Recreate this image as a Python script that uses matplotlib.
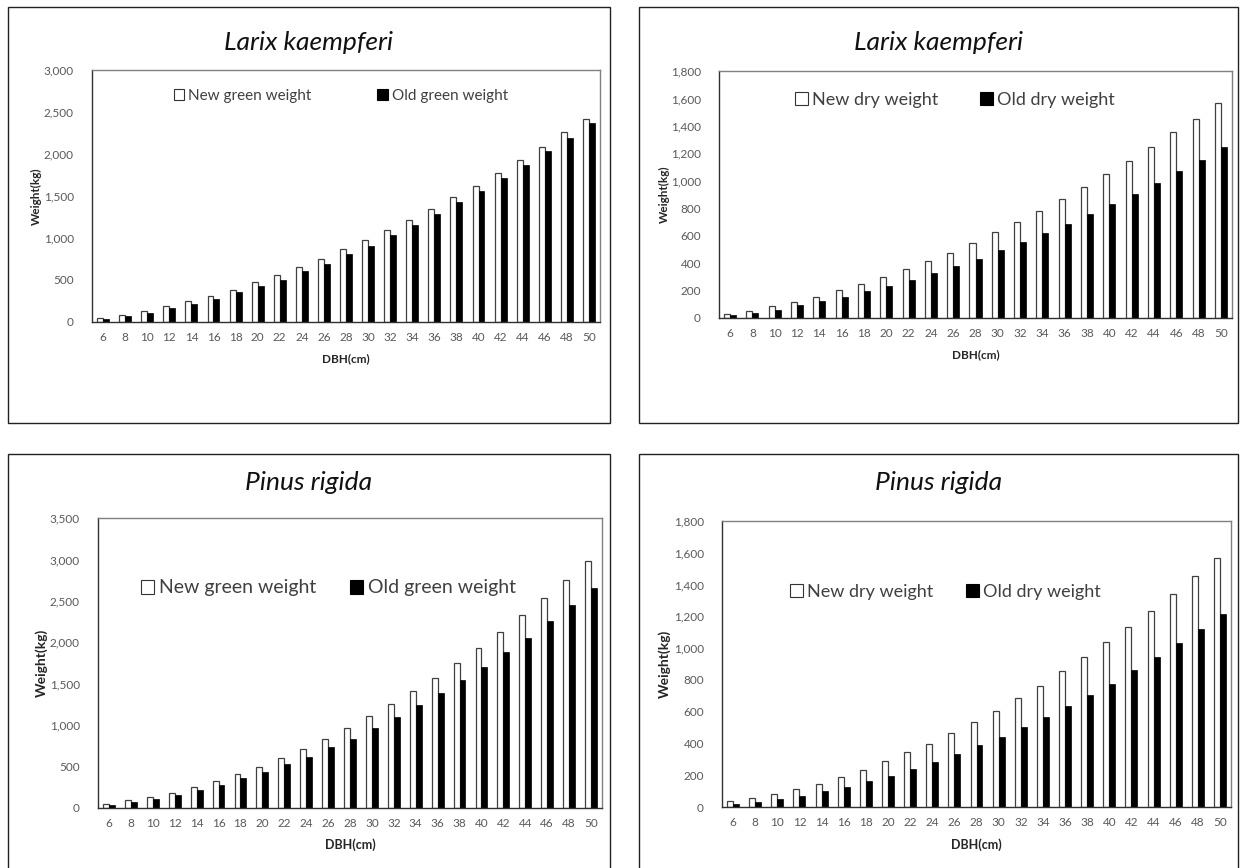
import matplotlib
matplotlib.use('Agg')
import matplotlib.pyplot as plt
import matplotlib.patches as patches
from matplotlib.ticker import FuncFormatter
import numpy as np

plt.rcParams['font.family'] = ['Lato', 'DejaVu Sans']

# DBH classes (cm)
dbh = [6, 8, 10, 12, 14, 16, 18, 20, 22, 24, 26, 28, 30, 32, 34, 36, 38, 40, 42, 44, 46, 48, 50]

# Larix kaempferi
larix_green_new = [45, 87, 134, 187, 246, 313, 385, 472, 563, 651, 753, 865, 980, 1091, 1218, 1345,
                   1484, 1622, 1773, 1928, 2087, 2257, 2420]
larix_green_old = [32, 75, 111, 163, 214, 278, 353, 428, 504, 603, 694, 806, 908, 1032, 1158, 1285,
                   1424, 1563, 1714, 1865, 2031, 2193, 2372]
larix_dry_new = [32, 54, 85, 114, 156, 202, 246, 302, 355, 416, 477, 547, 625, 703, 780, 865,
                 958, 1050, 1145, 1244, 1354, 1453, 1567]
larix_dry_old = [22, 39, 61, 93, 124, 156, 195, 233, 280, 326, 379, 433, 496, 552, 620, 688,
                 758, 829, 907, 982, 1069, 1155, 1244]

# Pinus rigida
pinus_green_new = [52, 97, 133, 185, 250, 327, 407, 496, 601, 718, 834, 967, 1112, 1253, 1411, 1568,
                   1749, 1934, 2128, 2325, 2531, 2752, 2978]
pinus_green_old = [40, 69, 109, 161, 214, 282, 359, 439, 528, 617, 733, 838, 971, 1104, 1245, 1390,
                   1543, 1701, 1886, 2055, 2253, 2446, 2652]
pinus_dry_new = [36, 54, 84, 111, 145, 186, 235, 289, 344, 398, 467, 536, 605, 683, 763, 853,
                 941, 1037, 1133, 1236, 1341, 1452, 1568]
pinus_dry_old = [17, 29, 50, 71, 98, 126, 161, 195, 237, 285, 333, 388, 442, 505, 566, 635,
                 704, 777, 861, 943, 1033, 1121, 1217]

W, H = 1247, 868
fig = plt.figure(figsize=(W / 100, H / 100), dpi=100)

tick_color = '#595959'
edge_gray = '#404040'


def px_axes(left, top, right, bottom):
    # convert pixel box to figure fraction
    return fig.add_axes([left / W, 1 - bottom / H, (right - left) / W, (bottom - top) / H])


def draw_panel(box, frame, title, title_y, new, old, labels, ymax, ystep,
               leg_xy, leg_size, leg_space, tick_size, ylab_size, xlab_size, xlab_y, ylab_x):
    # outer chart frame
    fx0, fy0, fx1, fy1 = frame
    fig.add_artist(patches.Rectangle((fx0 / W, 1 - fy1 / H), (fx1 - fx0) / W, (fy1 - fy0) / H,
                                     transform=fig.transFigure, fill=False,
                                     edgecolor='#222222', linewidth=1.0))
    ax = px_axes(*box)
    x = np.arange(len(dbh))
    w = 0.27
    ax.bar(x - w, new, width=w, align='edge', color='white', edgecolor=edge_gray, linewidth=0.9)
    ax.bar(x, old, width=w, align='edge', color='black', edgecolor='black', linewidth=0.5)
    ax.set_xlim(-0.5, len(dbh) - 0.5)
    ax.set_ylim(0, ymax)
    ax.set_yticks(np.arange(0, ymax + 1, ystep))
    ax.yaxis.set_major_formatter(FuncFormatter(lambda v, p: f'{v:,.0f}'))
    ax.set_xticks(x)
    ax.set_xticklabels([str(d) for d in dbh])
    ax.tick_params(axis='both', length=0, colors=tick_color, labelsize=tick_size)
    ax.tick_params(axis='y', pad=13)
    ax.tick_params(axis='x', pad=7)
    for s in ['top', 'right']:
        ax.spines[s].set_color('#808080')
        ax.spines[s].set_linewidth(1.0)
    for s in ['left', 'bottom']:
        ax.spines[s].set_color('#303030')
        ax.spines[s].set_linewidth(1.0)

    cx = (fx0 + fx1) / 2
    fig.text(cx / W, 1 - title_y / H, title, ha='center', va='center',
             fontsize=19, fontstyle='italic', color='#111111')
    fig.text((box[0] + box[2]) / 2 / W, 1 - xlab_y / H, 'DBH(cm)', ha='center', va='center',
             fontsize=xlab_size, fontweight='bold', color='#262626')
    fig.text(ylab_x / W, 1 - (box[1] + box[3]) / 2 / H, 'Weight(kg)', ha='center', va='center',
             rotation=90, fontsize=ylab_size, fontweight='bold', color='#262626')

    handles = [patches.Patch(facecolor='white', edgecolor='#333333', linewidth=0.8, label=labels[0]),
               patches.Patch(facecolor='black', edgecolor='black', linewidth=0.8, label=labels[1])]
    fig.legend(handles=handles, loc='center left',
               bbox_to_anchor=(leg_xy[0] / W, 1 - leg_xy[1] / H), bbox_transform=fig.transFigure,
               ncol=2, frameon=False, fontsize=leg_size, handlelength=0.7, handleheight=0.7,
               handletextpad=0.25, columnspacing=leg_space, borderpad=0, labelcolor='#404040')
    return ax


draw_panel((92, 70, 600, 322), (8, 7, 610, 423), 'Larix kaempferi', 42,
           larix_green_new, larix_green_old, ['New green weight', 'Old green weight'],
           3000, 500, (166, 96), 11, 4.3, 8.5, 8.5, 8.5, 359, 36)
draw_panel((719, 71, 1232, 318), (639, 7, 1238, 423), 'Larix kaempferi', 42,
           larix_dry_new, larix_dry_old, ['New dry weight', 'Old dry weight'],
           1800, 200, (786, 100), 13, 2.3, 8.5, 8.5, 8.5, 355, 664)
draw_panel((98, 518, 602, 808), (8, 454, 610, 872), 'Pinus rigida', 483,
           pinus_green_new, pinus_green_old, ['New green weight', 'Old green weight'],
           3500, 500, (131, 588), 14, 1.7, 8.5, 10, 9, 845, 42)
draw_panel((722, 521, 1231, 807), (639, 454, 1238, 872), 'Pinus rigida', 483,
           pinus_dry_new, pinus_dry_old, ['New dry weight', 'Old dry weight'],
           1800, 200, (781, 592), 13, 1.8, 8.5, 10, 9, 845, 665)

fig.savefig('out.png', dpi=100)
